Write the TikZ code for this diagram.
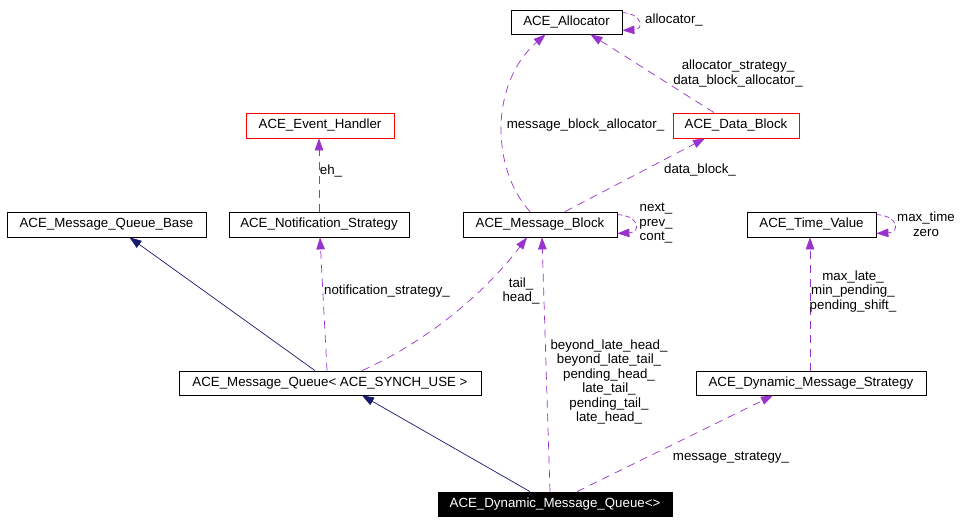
\documentclass[tikz,border=0pt]{standalone}
\usepackage{fontspec}
\setmainfont{Liberation Sans}
\usetikzlibrary{arrows.meta}
\definecolor{edgepurple}{HTML}{9A32CD}
\definecolor{edgenavy}{HTML}{191970}
\begin{document}
\begin{tikzpicture}[x=1pt,y=-1pt,
  every node/.style={font=\fontsize{13.3}{14.5}\selectfont, inner sep=0pt},
  cls/.style={draw=black, line width=0.8pt, minimum height=24pt, fill=white},
  redcls/.style={cls, draw=red},
  focus/.style={cls, fill=black, text=white},
  lbl/.style={align=center},
  usage/.style={draw=edgepurple, line width=0.7pt, dash pattern=on 8pt off 6pt, -{Triangle[length=12pt,width=8.5pt]}},
  inherit/.style={draw=edgenavy, line width=0.7pt, -{Triangle[length=12pt,width=8.5pt]}}
]
\useasboundingbox (0,0) rectangle (964,524);
\fill[white] (0,0) rectangle (964,524);

% classes
\node[cls, minimum width=111pt] (alloc) at (566.5,22) {ACE\_Allocator};
\node[redcls, minimum width=148pt, minimum height=25pt] (evh) at (320,125.5) {ACE\_Event\_Handler};
\node[redcls, minimum width=126pt, minimum height=25pt] (datab) at (736,125.5) {ACE\_Data\_Block};
\node[cls, minimum width=199pt, minimum height=25pt] (mqb) at (106.5,224.5) {ACE\_Message\_Queue\_Base};
\node[cls, minimum width=180pt, minimum height=25pt] (notif) at (319,224.5) {ACE\_Notification\_Strategy};
\node[cls, minimum width=154pt, minimum height=25pt] (mblk) at (540,224.5) {ACE\_Message\_Block};
\node[cls, minimum width=129pt, minimum height=25pt] (tv) at (811.5,224.5) {ACE\_Time\_Value};
\node[cls, minimum width=302pt] (mq) at (330,383) {ACE\_Message\_Queue< ACE\_SYNCH\_USE >};
\node[cls, minimum width=230pt] (dms) at (811,383) {ACE\_Dynamic\_Message\_Strategy};
\node[focus, minimum width=234pt] (dmq) at (555,504) {ACE\_Dynamic\_Message\_Queue<>};

% inheritance
\draw[inherit] ([xshift=-15pt]mq.north) -- ([xshift=23pt]mqb.south);
\draw[inherit] ([xshift=-25pt]dmq.north) -- ([xshift=32pt]mq.south);

% usage
\draw[usage] ([xshift=-3pt]mq.north) -- ([xshift=1pt]notif.south);
\draw[usage] ([xshift=32pt]mq.north) .. controls +(58,-26) and +(-47,62) .. ([xshift=-13pt]mblk.south);
\draw[usage] ([xshift=-5pt]dmq.north) -- ([xshift=2pt]mblk.south);
\draw[usage] ([xshift=22pt]dmq.north) -- ([xshift=-38pt]dms.south);
\draw[usage] ([xshift=-1pt]dms.north) -- ([xshift=-1.5pt]tv.south);
\draw[usage] (notif.north) -- ([xshift=-1pt]evh.south);
\draw[usage] ([xshift=25pt]mblk.north) -- ([xshift=-31pt]datab.south);
\draw[usage] ([xshift=-10pt]mblk.north) .. controls +(-38,-41) and +(-57,50) .. ([xshift=-21pt]alloc.south);
\draw[usage] ([xshift=-22pt]datab.north) -- ([xshift=24pt]alloc.south);

% self loops
\draw[usage, dash pattern=on 5pt off 3pt] ([yshift=-3pt]alloc.north east) .. controls +(20,1) and +(22,-1) .. ([yshift=4pt]alloc.south east);
\draw[usage, dash pattern=on 5pt off 3pt] ([yshift=-3pt]mblk.north east) .. controls +(22,1) and +(24,-1) .. ([yshift=4pt]mblk.south east);
\draw[usage, dash pattern=on 5pt off 3pt] ([yshift=-3pt]tv.north east) .. controls +(22,1) and +(24,-1) .. ([yshift=4pt]tv.south east);

% labels
\node[lbl] (l1) at (674,20) {allocator\_};
\node[lbl] (l2) at (738,73.5) {allocator\_strategy\_\\data\_block\_allocator\_};
\node[lbl] (l3) at (585.5,125) {message\_block\_allocator\_};
\node[lbl] (l4) at (700,170) {data\_block\_};
\node[lbl] (l5) at (656,223.5) {next\_\\prev\_\\cont\_};
\node[lbl] (l6) at (926,224) {max\_time\\zero};
\node[lbl] (l7) at (331,171) {eh\_};
\node[lbl] (l8) at (853,291.5) {max\_late\_\\min\_pending\_\\pending\_shift\_};
\node[lbl] (l9) at (387,291) {notification\_strategy\_};
\node[lbl] (l10) at (521,291) {tail\_\\head\_};
\node[lbl] (l11) at (609,382) {beyond\_late\_head\_\\beyond\_late\_tail\_\\pending\_head\_\\late\_tail\_\\pending\_tail\_\\late\_head\_};
\node[lbl] (l12) at (731,458) {message\_strategy\_};
\end{tikzpicture}
\end{document}
